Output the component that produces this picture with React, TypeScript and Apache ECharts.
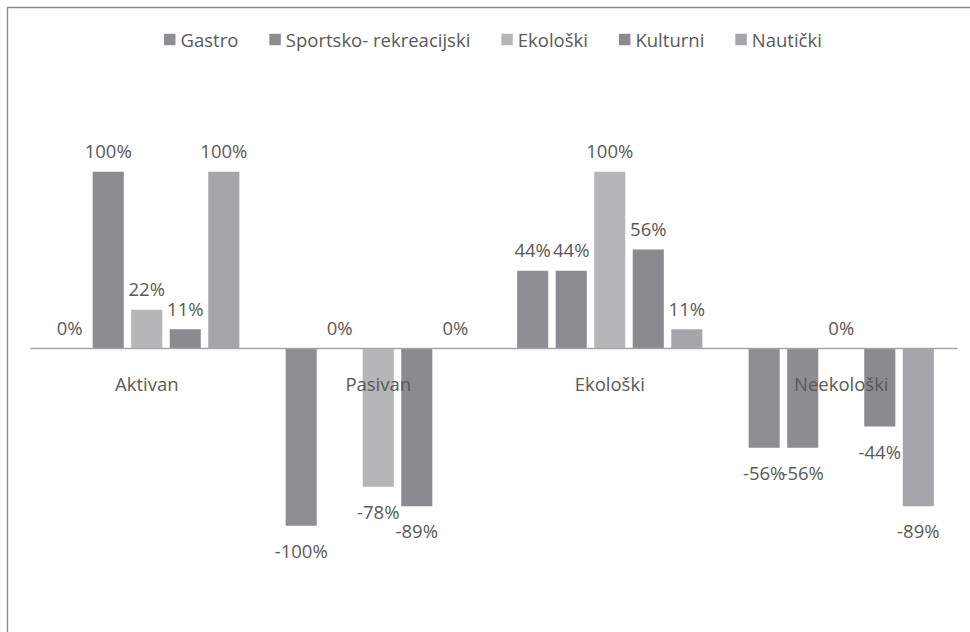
import React, { useEffect, useRef } from "react";
import * as echarts from "echarts";

const categories = ["Aktivan", "Pasivan", "Ekološki", "Neekološki"];
const seriesNames = ["Gastro", "Sportsko- rekreacijski", "Ekološki", "Kulturni", "Nautički"];
const gastro = [0, -100, 44, -56];
const sportsko = [100, 0, 44, -56];
const ekoloski = [22, -78, 100, 0];
const kulturni = [11, -89, 56, -44];
const nauticki = [100, 0, 11, -89];
const seriesValues = [gastro, sportsko, ekoloski, kulturni, nauticki];
const colors = ["#8e8f93", "#8c8d91", "#b5b6b8", "#8a8b8f", "#a5a6a9"];

const FONT = "Open Sans";
const TEXT = "#595959";

export default function App() {
  const ref = useRef<HTMLDivElement>(null);
  useEffect(() => {
    if (!ref.current) return;
    const chart = echarts.init(ref.current, undefined, { renderer: "svg" });
    const series = seriesNames.map((name, i) => ({
      name,
      type: "bar",
      barCategoryGap: "20%",
      barGap: "24%",
      itemStyle: { color: colors[i] },
      label: {
        show: true,
        formatter: (p: any) => `${p.value}%`,
        color: TEXT,
        fontFamily: FONT,
        fontSize: 18.5,
      },
      data: seriesValues[i].map((v) => ({
        value: v,
        label:
          v < 0
            ? { position: "bottom", distance: 15 }
            : { position: "top", distance: 11.5 },
      })),
    }));
    chart.setOption({
      animation: false,
      textStyle: { fontFamily: FONT },
      graphic: [
        {
          type: "rect",
          shape: { x: 7.5, y: 7.5, width: 1000, height: 1000 },
          style: { fill: "none", stroke: "#8c8c8c", lineWidth: 1.3 },
          silent: true,
        },
      ],
      legend: {
        data: seriesNames,
        left: 164,
        top: 30,
        padding: 0,
        itemWidth: 11.5,
        itemHeight: 11.5,
        itemGap: 31,
        icon: "rect",
        textStyle: { color: TEXT, fontFamily: FONT, fontSize: 18.5 },
      },
      grid: { left: 31, right: 13, top: 136.3, bottom: 70.9, containLabel: false },
      xAxis: {
        type: "category",
        data: categories,
        z: 5,
        offset: -212.4,
        axisLine: { onZero: false, lineStyle: { color: "#a6a6a6", width: 1.3 } },
        axisTick: { show: false },
        axisLabel: { color: TEXT, fontFamily: FONT, fontSize: 18.5, margin: 25 },
      },
      yAxis: {
        type: "value",
        min: -120,
        max: 120,
        show: false,
        splitLine: { show: false },
      },
      series,
    });
    return () => chart.dispose();
  }, []);
  return (
    <div
      ref={ref}
      style={{ position: "absolute", left: 0, top: 0, width: 970, height: 632, background: "#fff" }}
    />
  );
}
